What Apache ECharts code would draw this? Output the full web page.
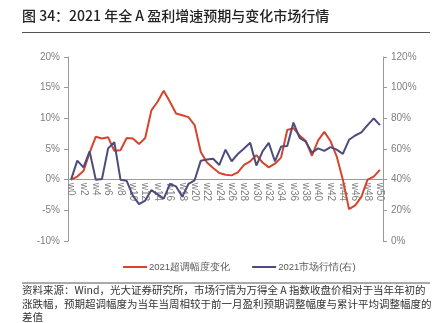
<html>
<head>
    <meta charset="utf-8">
    <title>2021年全A盈利增速预期与变化市场行情</title>
    <script src="https://cdn.jsdelivr.net/npm/echarts@6/dist/echarts.min.js"></script>
    <style>
        body { margin: 0; background: #fff; }
    </style>
</head>
<body>
    <div id="main" style="width: 432px;height:323px;"></div>
    <script type="text/javascript">
        // 周次
        var weeks = ['w0','w1','w2','w3','w4','w5','w6','w7','w8','w9',
            'w10','w11','w12','w13','w14','w15','w16','w17','w18','w19',
            'w20','w21','w22','w23','w24','w25','w26','w27','w28','w29',
            'w30','w31','w32','w33','w34','w35','w36','w37','w38','w39',
            'w40','w41','w42','w43','w44','w45','w46','w47','w48','w49','w50'];

        // 2021超调幅度变化 (%，左轴)
        var overAdjust = [0, 0.5, 1.4, 4.4, 7.0, 6.7, 6.9, 4.7, 4.8, 6.8,
            6.7, 5.8, 6.8, 11.3, 12.7, 14.5, 12.7, 10.8, 10.5, 10.2,
            8.9, 4.5, 2.8, 1.9, 1.1, 0.8, 0.7, 1.2, 2.4, 3.0,
            4.0, 2.8, 2.0, 2.6, 3.6, 8.1, 8.4, 7.2, 6.3, 3.9,
            6.4, 7.8, 6.3, 3.8, 0, -4.8, -4.2, -2.8, 0, 0.5, 1.6];

        // 2021市场行情 (%，右轴)
        var market = [40, 52.4, 48, 58.4, 40, 40.4, 60.4, 64.4, 40, 39.2,
            29.6, 24, 26.4, 33.2, 30.4, 27.6, 37.2, 35.6, 28.8, 37.2,
            39.6, 52.4, 53.2, 53.6, 49.6, 59.6, 52, 56.8, 60.4, 64,
            49.2, 58.4, 64, 52, 61.6, 62, 77.2, 67.2, 64.8, 57.6,
            60.4, 58.8, 61.2, 59.6, 56.8, 66, 68.8, 70.8, 75.6, 80, 75.6];

        var leftMin = -10, leftMax = 20;

        var titleText = '图 34：2021 年全 A 盈利增速预期与变化市场行情';
        var noteLines = [
            '资料来源：Wind，光大证券研究所，市场行情为万得全 A 指数收盘价相对于当年年初的',
            '涨跌幅，预期超调幅度为当年当周相较于前一月盈利预期调整幅度与累计平均调整幅度的',
            '差值'
        ];

        var myChart = echarts.init(document.getElementById('main'));

        var axisGray = '#9a9a9a';
        var labelGray = '#7f7f7f';
        var cjk = '"Noto Sans CJK SC", "Noto Sans", sans-serif';
        var latin = 'Arial, "Liberation Sans", sans-serif';

        var gridTop = 57, gridBottom = 82;
        // 横轴放在左轴 0% 处：从绘图区底边向上平移
        var plotH = 323 - gridTop - gridBottom;
        var zeroOffset = -plotH * (0 - leftMin) / (leftMax - leftMin);

        var graphics = [
            { type: 'text', left: 22, top: 9, style: { text: titleText, fontSize: 14, fontWeight: 500, fontFamily: cjk, fill: '#222' } },
            { type: 'line', shape: { x1: 22, y1: 32.5, x2: 430, y2: 32.5 }, style: { stroke: '#555', lineWidth: 1 } },
            { type: 'line', shape: { x1: 22, y1: 283, x2: 430, y2: 283 }, style: { stroke: '#555', lineWidth: 1 } }
        ];
        for (var i = 0; i < noteLines.length; i++) {
            graphics.push({
                type: 'text', left: 22, top: 285 + i * 13.5,
                style: { text: noteLines[i], fontSize: 10.5, fontFamily: cjk, fill: '#333' }
            });
        }

        var option = {
            animation: false,
            graphic: graphics,
            legend: {
                top: 257,
                left: 118,
                itemWidth: 24,
                itemHeight: 2,
                itemGap: 22,
                icon: 'rect',
                textStyle: { fontSize: 9.5, color: '#595959', fontFamily: latin, padding: [0, 0, 0, -3] },
                data: ['2021超调幅度变化', '2021市场行情(右)']
            },
            grid: { left: 68, right: 49, top: gridTop, bottom: gridBottom },
            xAxis: {
                type: 'category',
                data: weeks,
                boundaryGap: true,
                position: 'bottom',
                offset: zeroOffset,
                axisLine: { onZero: false, lineStyle: { color: axisGray } },
                axisTick: { interval: 1, alignWithLabel: true, inside: true, length: 4, lineStyle: { color: axisGray } },
                axisLabel: { interval: 1, rotate: -90, fontSize: 10, color: labelGray, fontFamily: latin, margin: 3 }
            },
            yAxis: [
                {
                    type: 'value',
                    min: leftMin, max: leftMax, interval: 5,
                    axisLine: { show: true, lineStyle: { color: axisGray } },
                    axisTick: { show: true, length: 4, lineStyle: { color: axisGray } },
                    splitLine: { show: false },
                    axisLabel: { formatter: '{value}%', fontSize: 10, color: labelGray, fontFamily: latin, margin: 8 }
                },
                {
                    type: 'value',
                    min: 0, max: 120, interval: 20,
                    axisLine: { show: true, lineStyle: { color: axisGray } },
                    axisTick: { show: true, length: 4, lineStyle: { color: axisGray } },
                    splitLine: { show: false },
                    axisLabel: { formatter: '{value}%', fontSize: 10, color: labelGray, fontFamily: latin, margin: 8 }
                }
            ],
            series: [
                {
                    name: '2021超调幅度变化',
                    type: 'line',
                    yAxisIndex: 0,
                    data: overAdjust,
                    symbol: 'none',
                    lineStyle: { color: '#d6452b', width: 2 },
                    itemStyle: { color: '#d6452b' }
                },
                {
                    name: '2021市场行情(右)',
                    type: 'line',
                    yAxisIndex: 1,
                    data: market,
                    symbol: 'none',
                    lineStyle: { color: '#4e4c7c', width: 2 },
                    itemStyle: { color: '#4e4c7c' }
                }
            ]
        };

        myChart.setOption(option);
    </script>
</body>
</html>
